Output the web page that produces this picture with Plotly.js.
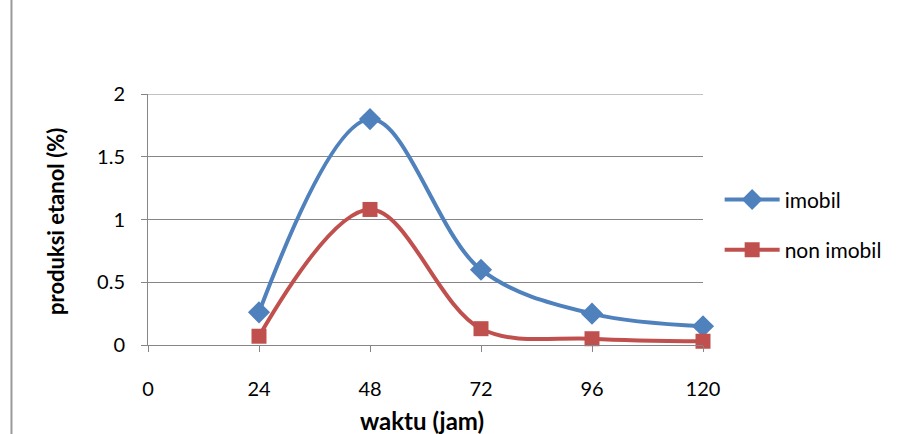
<!DOCTYPE html>
<html><head><meta charset="utf-8">
<script src="https://cdn.plot.ly/plotly-3.0.1.min.js"></script>
<style>html,body{margin:0;padding:0;background:#fff}#c{width:909px;height:434px}</style>
</head><body><div id="c"></div>
<script>
const waktu = [24, 48, 72, 96, 120];
const imobil = [0.26, 1.80, 0.60, 0.25, 0.15];
const nonImobil = [0.07, 1.08, 0.13, 0.05, 0.03];
const xTicks = [0, 24, 48, 72, 96, 120];
const yTicks = [0, 0.5, 1, 1.5, 2];
const yTickText = ['0', '0.5', '1', '1.5', '2'];
const xTitle = 'waktu (jam)';
const yTitle = 'produksi etanol (%)';

const font = "Lato, 'Open Sans', sans-serif";
const data = [
  {x: waktu, y: imobil, name: 'imobil', type: 'scatter', mode: 'lines+markers',
   line: {color: '#4F81BD', width: 4, shape: 'spline', smoothing: 1},
   marker: {symbol: 'diamond', size: 17, color: '#4F81BD'}, cliponaxis: false, legendgroup: 'a'},
  {x: waktu, y: nonImobil, name: 'non imobil', type: 'scatter', mode: 'lines+markers',
   line: {color: '#C0504D', width: 4, shape: 'spline', smoothing: 1},
   marker: {symbol: 'square', size: 15, color: '#C0504D'}, cliponaxis: false, legendgroup: 'b'}
];
const yMax = yTicks[yTicks.length - 1];
const layout = {
  width: 909, height: 434,
  margin: {l: 148, r: 206, t: 94, b: 89},
  paper_bgcolor: '#fff', plot_bgcolor: 'rgba(0,0,0,0)',
  font: {family: font, size: 20, color: '#000'},
  showlegend: true,
  legend: {x: 1.03, y: 0.66, xanchor: 'left', yanchor: 'top', font: {size: 21, family: font},
           tracegroupgap: 20, itemwidth: 55, bgcolor: 'rgba(0,0,0,0)'},
  xaxis: {range: [0, 120], tickvals: xTicks, ticktext: xTicks.map(String),
          showgrid: false, zeroline: false, showline: true, linecolor: '#868686', linewidth: 1,
          ticks: 'outside', ticklen: 6, tickcolor: '#868686', tickfont: {size: 20},
          ticklabelstandoff: 20},
  yaxis: {range: [0, yMax], tickvals: yTicks, ticktext: yTickText,
          showgrid: true, gridcolor: '#868686', gridwidth: 1, zeroline: false,
          showline: true, linecolor: '#868686', linewidth: 1,
          ticks: 'outside', ticklen: 6, tickcolor: '#868686', tickfont: {size: 20},
          ticklabelstandoff: 12},
  annotations: [
    {text: '<b>' + xTitle + '</b>', xref: 'paper', yref: 'paper', x: 0.493, y: -0.299,
     xanchor: 'center', yanchor: 'middle', showarrow: false, font: {size: 24}},
    {text: '<b>' + yTitle + '</b>', xref: 'paper', yref: 'paper', x: -0.1676, y: 0.494,
     xanchor: 'center', yanchor: 'middle', showarrow: false, textangle: -90, font: {size: 22}}
  ],
  shapes: [
    {type: 'line', xref: 'paper', yref: 'y', x0: 0, x1: 1, y0: yMax, y1: yMax,
     line: {color: '#868686', width: 1}},
    {type: 'line', xref: 'paper', yref: 'paper', x0: -0.246, x1: -0.246, y0: -0.36, y1: 1.4,
     line: {color: '#9a9a9a', width: 2}}]
};
Plotly.newPlot('c', data, layout, {displayModeBar: false, staticPlot: true});
</script></body></html>
